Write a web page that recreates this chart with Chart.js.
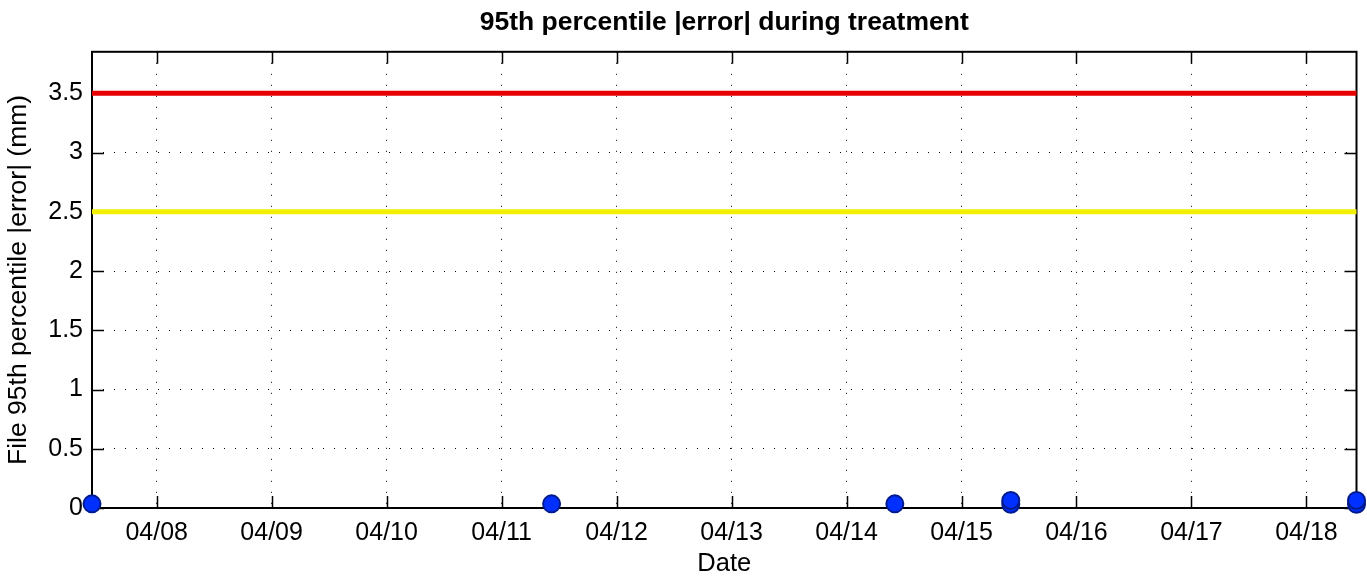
<!DOCTYPE html>
<html>
<head>
<meta charset="utf-8">
<script src="https://cdn.jsdelivr.net/npm/chart.js@4/dist/chart.umd.min.js"></script>
<style>
  html, body { margin: 0; padding: 0; background: #ffffff; }
  #wrap { width: 1367px; height: 576px; }
</style>
</head>
<body>
<div id="wrap"><canvas id="c" width="1367" height="576"></canvas></div>
<script>
// ---- data ----
const chartTitle = '95th percentile |error| during treatment';
const xAxisTitle = 'Date';
const yAxisTitle = 'File 95th percentile |error| (mm)';

// treatment fractions: date (MM/DD HH:MM) and 95th percentile |error| (mm)
const fractionDates = ['04/07 10:30', '04/11 10:26', '04/14 10:05', '04/15 10:17', '04/15 10:17', '04/18 10:27', '04/18 10:27'];
const fractionErrors = [0.035, 0.035, 0.035, 0.032, 0.064, 0.032, 0.064];

// thresholds (mm)
const actionLevel = 3.5;
const warningLevel = 2.5;

// ticks
const xTickDays = [8, 9, 10, 11, 12, 13, 14, 15, 16, 17, 18];
const xTickMonth = '04';
const yTicks = [0, 0.5, 1, 1.5, 2, 2.5, 3, 3.5];
const yMin = 0;
const yMax = 3.85;

// ---- helpers ----
function toDay(s) {
  const [md, hm] = s.split(' ');
  const day = parseInt(md.split('/')[1], 10);
  const [h, m] = hm.split(':').map(Number);
  return day + h / 24 + m / 1440;
}
const xs = fractionDates.map(toDay);
const xMin = Math.min(...xs);
const xMax = Math.max(...xs);
const points = xs.map((x, i) => ({ x: x, y: fractionErrors[i] }));

const FONT = 'Liberation Sans, Arial, Helvetica, sans-serif';

// plugin: frame box and inward ticks (MATLAB style)
const framePlugin = {
  id: 'frame',
  beforeDatasetsDraw(chart) {
    const { ctx, chartArea: a, scales } = chart;
    ctx.save();
    ctx.strokeStyle = '#000';
    ctx.lineWidth = 1.5;
    const tl = 12;
    ctx.beginPath();
    scales.x.ticks.forEach(t => {
      const px = Math.round(scales.x.getPixelForValue(t.value)) + 0.5;
      ctx.moveTo(px, a.bottom); ctx.lineTo(px, a.bottom - tl);
      ctx.moveTo(px, a.top); ctx.lineTo(px, a.top + tl);
    });
    scales.y.ticks.forEach(t => {
      const py = Math.round(scales.y.getPixelForValue(t.value)) + 0.5;
      ctx.moveTo(a.left, py); ctx.lineTo(a.left + tl, py);
      ctx.moveTo(a.right, py); ctx.lineTo(a.right - tl, py);
    });
    ctx.stroke();
    ctx.lineWidth = 2;
    ctx.strokeRect(a.left, a.top, a.right - a.left, a.bottom - a.top);
    ctx.restore();
  }
};

new Chart(document.getElementById('c'), {
  type: 'scatter',
  data: {
    datasets: [
      {
        label: 'Action level',
        type: 'line',
        data: [{ x: xMin, y: actionLevel }, { x: xMax, y: actionLevel }],
        borderColor: '#e60000',
        borderWidth: 5,
        pointRadius: 0,
        fill: false,
        clip: false
      },
      {
        label: 'Warning level',
        type: 'line',
        data: [{ x: xMin, y: warningLevel }, { x: xMax, y: warningLevel }],
        borderColor: '#f0f000',
        borderWidth: 5,
        pointRadius: 0,
        fill: false,
        clip: false
      },
      {
        label: 'File 95th percentile |error|',
        data: points,
        backgroundColor: '#0030ff',
        borderColor: '#001a8c',
        borderWidth: 2,
        pointRadius: 8.5,
        pointHoverRadius: 8.5,
        clip: false
      }
    ]
  },
  plugins: [framePlugin],
  options: {
    responsive: false,
    animation: false,
    events: [],
    layout: { padding: { left: 0, right: 10, top: 0, bottom: 0 } },
    plugins: {
      legend: { display: false },
      tooltip: { enabled: false },
      title: {
        display: true,
        fullSize: false,
        text: chartTitle,
        color: '#000',
        font: { family: FONT, size: 26.5, weight: 'bold', lineHeight: 1.2 },
        padding: { top: 7, bottom: 13 }
      }
    },
    scales: {
      x: {
        type: 'linear',
        position: 'bottom',
        min: xMin,
        max: xMax,
        afterBuildTicks(scale) { scale.ticks = xTickDays.map(v => ({ value: v })); },
        afterFit(scale) { scale.height = 68; },
        ticks: {
          color: '#000',
          font: { family: FONT, size: 25 },
          padding: 10,
          maxRotation: 0,
          autoSkip: false,
          callback: v => xTickMonth + '/' + String(v).padStart(2, '0')
        },
        grid: { color: '#000', lineWidth: 1, drawTicks: false },
        border: { display: false, dash: [1, 10] },
        title: {
          display: true,
          text: xAxisTitle,
          color: '#000',
          font: { family: FONT, size: 25.5 },
          padding: { top: 0, bottom: -3 }
        }
      },
      y: {
        type: 'linear',
        min: yMin,
        max: yMax,
        afterBuildTicks(scale) { scale.ticks = yTicks.map(v => ({ value: v })); },
        afterFit(scale) { scale.width = 92; },
        ticks: {
          color: '#000',
          font: { family: FONT, size: 25 },
          padding: 9,
          autoSkip: false,
          callback: v => String(v)
        },
        grid: { color: '#000', lineWidth: 1, drawTicks: false },
        border: { display: false, dash: [1, 10] },
        title: {
          display: true,
          text: yAxisTitle,
          color: '#000',
          font: { family: FONT, size: 26.5 },
          padding: { top: 3, bottom: 0 }
        }
      }
    }
  }
});
</script>
</body>
</html>
